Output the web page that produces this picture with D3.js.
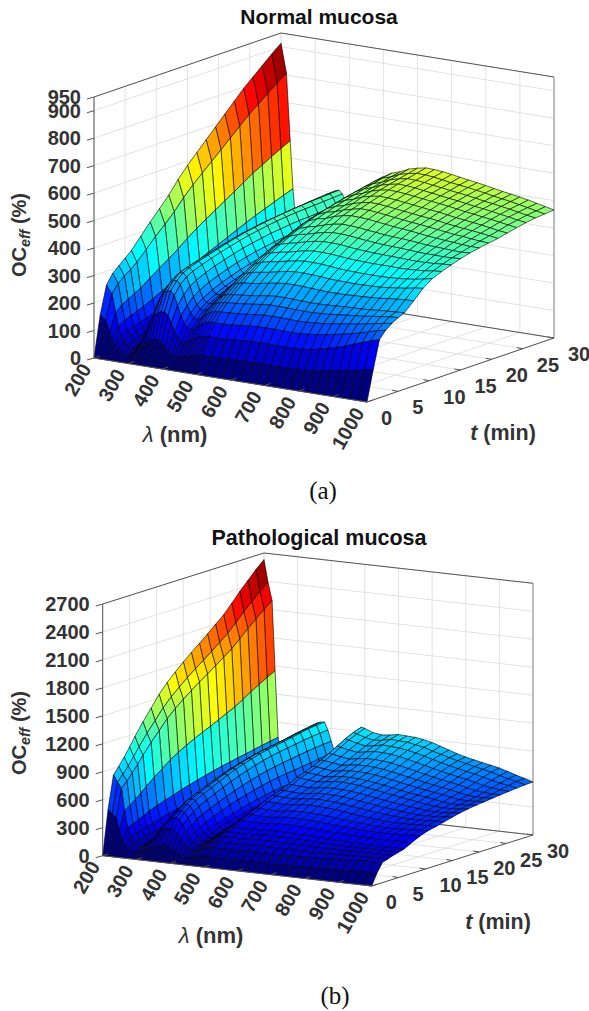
<!DOCTYPE html>
<html><head><meta charset="utf-8">
<script src="https://cdn.jsdelivr.net/npm/d3@7"></script>
<style>html,body{margin:0;padding:0;background:#fff}svg{display:block}text{font-family:"Liberation Sans",Arial,sans-serif;font-weight:bold;fill:#333}</style>
</head><body><svg id="c" width="589" height="1011"></svg>
<script>
const wavelengths=[200,216,227,235,243,252,262,275,290,300,310,320,330,340,350,360,370,380,390,400,410,420,430,440,450,460,470,480,490,500,525,550,575,600,625,650,675,700,725,750,775,800,825,850,875,900,925,950,975,1000];
const wavelengthsB=[200,212,224,233,242,252,262,275,290,300,310,320,330,340,350,360,370,380,390,400,410,420,430,440,450,460,470,480,490,500,525,550,575,600,625,650,675,700,725,750,775,800,825,850,875,900,925,950,975,1000];
const times=[0,1,2,3,4,5,6,7.5,9,10.5,12,13.5,15,16.5,18,19.5,21,22.5,24,25.5,27,28.5,30];
const lambdaTicks=[200,300,400,500,600,700,800,900,1000];
const timeTicks=[0,5,10,15,20,25,30];
const ocTicksA=[0,100,200,300,400,500,600,700,800,900,950];
const ocTicksB=[0,300,600,900,1200,1500,1800,2100,2400,2700];
const ocNormal=[
[0,150,250,285,305,325,345,385,425,462,500,545,585,620,655,690,725,760,795,825,855,885,913],
[0,133,221,252,270,287,305,340,376,408,442,482,517,548,579,610,641,672,703,729,756,782,807],
[0,93,154,176,188,201,213,238,262,285,309,336,361,383,404,426,447,469,491,509,528,546,563],
[0,64,107,122,130,139,147,164,181,197,213,233,250,265,280,295,310,325,339,352,365,378,390],
[0,46,77,87,94,100,106,118,130,142,153,167,180,190,201,212,222,233,244,253,262,272,280],
[0,33,58,70,78,85,92,101,110,119,127,136,145,153,161,169,176,183,191,198,205,210,215],
[0,24,42,52,60,66,72,80,87,95,102,110,117,124,132,138,144,150,157,163,169,175,180],
[0,15,30,40,48,53,58,66,73,81,90,97,105,112,120,127,134,141,148,155,160,165,170],
[0,20,40,55,65,72,80,89,98,106,115,122,130,137,145,150,156,162,168,174,180,185,190],
[0,30,60,82,97,108,118,130,140,150,158,166,174,181,188,194,200,206,212,216,220,224,228],
[0,44,88,120,140,155,167,178,188,197,205,213,221,228,235,241,246,250,254,258,262,266,270],
[0,58,115,155,180,195,207,217,226,235,243,251,258,265,272,277,282,286,290,293,296,298,300],
[0,72,145,195,225,245,255,265,274,282,290,298,305,312,318,323,327,331,335,338,340,342,345],
[0,82,165,225,255,272,282,292,300,310,318,326,333,340,346,351,355,359,362,365,368,371,373],
[0,88,178,243,273,292,302,312,321,331,340,349,356,362,368,372,376,380,383,387,390,393,395],
[0,90,185,253,283,303,313,323,333,343,352,361,369,375,381,385,389,393,396,400,403,406,408],
[0,90,185,255,285,305,316,328,338,348,358,367,375,381,387,392,396,400,403,406,408,410,412],
[0,85,175,240,272,293,305,318,329,340,349,358,366,372,378,383,387,390,392,394,396,398,400],
[0,72,148,205,237,260,275,290,303,314,324,333,340,346,352,356,360,363,365,367,369,371,373],
[0,58,120,170,200,224,240,258,271,283,294,303,311,317,323,327,331,334,337,339,341,343,345],
[0,48,100,145,175,197,213,232,247,259,270,280,288,294,300,305,309,312,315,318,321,323,325],
[0,42,88,130,160,183,200,219,235,248,259,269,278,284,290,295,299,302,305,307,309,311,313],
[0,40,85,125,155,180,197,217,233,247,259,270,279,286,292,297,301,304,307,310,312,314,316],
[0,42,90,130,160,185,200,222,240,255,270,282,292,300,308,314,319,323,327,330,332,334,335],
[0,47,100,143,173,198,215,238,258,276,292,306,318,328,338,345,351,356,361,366,370,374,378],
[0,50,107,152,182,208,226,251,273,293,312,328,342,354,365,374,381,388,394,398,402,406,410],
[0,55,115,160,190,215,235,263,287,309,330,347,362,376,390,400,408,416,424,429,433,437,440],
[0,57,118,163,193,219,240,269,294,317,338,356,372,387,402,412,421,429,436,442,448,455,460],
[0,58,120,165,195,221,242,272,298,322,345,364,381,396,412,423,432,441,450,457,464,471,478],
[0,59,121,165,196,222,244,275,302,327,349,369,387,403,419,431,441,450,459,467,474,481,487],
[0,60,122,165,198,225,247,278,307,334,357,378,398,414,432,444,454,464,473,482,490,498,505],
[0,60,122,167,200,228,250,283,312,339,362,384,404,421,438,451,462,473,483,492,500,508,515],
[0,62,125,170,203,232,255,289,319,346,370,393,413,431,450,462,474,486,496,506,514,522,530],
[0,63,128,173,207,236,260,294,325,352,377,400,420,439,458,470,482,494,505,514,522,530,538],
[0,64,130,176,210,239,263,298,329,356,381,404,425,444,463,477,488,499,510,520,528,536,544],
[0,64,130,176,210,239,263,298,329,356,381,404,425,443,462,476,487,498,509,519,527,535,543],
[0,64,130,176,210,238,262,297,328,355,380,403,423,441,460,473,484,495,506,516,524,532,540],
[0,63,129,175,209,237,261,295,326,352,377,399,419,437,456,469,480,491,502,511,519,527,535],
[0,63,128,174,208,236,259,293,323,349,374,396,416,434,452,465,476,487,498,507,515,522,530],
[0,64,129,175,209,236,260,292,322,347,372,394,413,430,448,461,472,483,494,502,510,518,525],
[0,65,131,178,212,238,261,292,321,346,371,392,411,428,445,457,468,479,490,498,506,514,520],
[0,67,135,182,214,240,263,292,320,345,370,391,409,426,442,454,465,476,486,494,502,509,515],
[0,71,142,187,219,244,265,294,321,345,370,390,408,424,438,450,461,471,481,489,497,504,509],
[0,75,150,192,223,247,266,295,322,345,370,389,406,421,434,446,456,466,476,484,491,498,503],
[0,81,158,199,228,250,267,297,323,346,369,388,404,418,431,442,452,462,472,480,487,493,498],
[0,85,168,205,232,253,269,299,326,348,370,387,403,416,428,438,448,458,467,475,482,488,493],
[0,91,180,213,238,258,272,303,330,351,372,388,403,415,426,436,445,454,463,470,477,482,487],
[0,97,191,222,244,262,274,306,334,355,374,389,402,413,423,432,441,449,458,465,471,476,480],
[0,104,202,231,250,266,276,309,340,361,379,392,403,412,421,429,437,444,453,459,465,469,473],
[0,110,211,238,255,268,278,310,344,368,382,394,405,414,421,427,432,440,448,455,460,463,466]];
const ocPathological=[
[0,480,830,905,985,1075,1170,1300,1420,1540,1640,1725,1805,1880,1950,2025,2100,2175,2270,2370,2460,2550,2630],
[0,436,755,823,895,977,1063,1182,1291,1400,1491,1568,1641,1709,1773,1841,1909,1977,2064,2155,2236,2318,2390],
[0,400,695,757,823,899,978,1087,1187,1287,1371,1442,1509,1572,1630,1693,1756,1818,1898,1981,2056,2132,2200],
[0,265,457,499,543,592,645,716,782,849,904,950,995,1036,1074,1116,1157,1199,1251,1306,1355,1405,1450],
[0,160,280,305,330,357,385,418,447,476,505,530,555,578,600,620,638,655,672,690,707,724,740],
[0,105,185,205,225,243,260,285,308,330,348,367,385,400,415,428,440,452,465,475,484,492,500],
[0,70,125,140,155,168,180,198,216,233,245,258,270,280,290,298,306,314,322,330,337,344,350],
[0,45,85,100,112,122,132,146,160,175,188,200,212,222,232,240,247,254,260,265,270,275,280],
[0,50,95,115,130,143,155,170,185,200,212,224,236,246,255,262,268,274,280,285,290,295,300],
[0,62,123,155,177,195,210,230,248,265,280,295,309,321,332,340,347,354,361,367,372,376,380],
[0,80,160,200,228,250,268,290,310,330,347,362,377,391,405,416,426,436,446,454,462,470,478],
[0,100,205,255,290,315,335,362,385,408,430,449,468,487,505,520,533,546,558,568,580,590,600],
[0,120,245,310,355,385,410,442,470,497,522,545,568,590,612,628,642,656,670,684,698,710,722],
[0,138,280,355,405,440,470,507,540,572,600,625,648,670,692,708,722,736,750,766,780,792,805],
[0,150,305,390,445,490,530,570,605,640,672,700,725,748,770,788,803,818,832,848,865,882,900],
[0,158,320,412,470,520,562,603,640,676,710,742,768,792,815,833,848,863,880,900,915,930,945],
[0,160,325,420,480,530,570,613,652,690,725,758,785,810,835,853,868,883,898,915,930,945,955],
[0,155,315,405,465,515,555,600,640,680,720,755,785,812,838,858,875,890,905,925,942,952,960],
[0,135,275,355,410,460,497,540,580,618,655,688,717,745,770,790,808,822,835,850,862,870,878],
[0,110,225,290,337,380,412,452,490,525,557,587,615,640,662,680,695,708,722,735,745,755,762],
[0,85,175,230,270,305,335,372,405,437,465,490,513,535,555,570,582,592,602,615,628,640,650],
[0,67,137,180,212,240,265,296,325,352,378,400,420,438,455,467,476,484,492,505,518,530,540],
[0,57,117,155,183,207,230,260,288,312,335,356,375,391,405,416,425,433,440,455,470,480,490],
[0,55,110,145,170,190,210,238,262,285,305,325,345,360,375,388,400,412,425,440,450,460,470],
[0,60,122,158,182,205,222,250,275,300,325,347,368,385,402,418,432,448,465,490,515,540,558],
[0,68,138,175,200,222,245,275,304,332,360,385,410,432,455,473,490,510,530,560,590,620,645],
[0,75,155,195,225,253,280,315,350,385,415,445,470,500,530,550,580,610,640,675,710,745,780],
[0,82,165,208,240,270,300,340,378,415,450,485,515,548,580,605,640,675,710,755,800,840,880],
[0,85,170,215,250,283,315,360,400,440,485,520,550,585,630,660,695,735,780,830,880,920,950],
[0,85,170,215,250,283,315,358,398,438,480,517,548,582,626,655,690,730,772,820,868,908,940],
[0,85,170,215,250,280,313,352,392,432,476,510,540,575,615,645,680,718,755,800,845,880,905],
[0,85,170,215,252,282,312,352,390,428,472,505,535,568,605,632,665,700,740,785,825,860,890],
[0,85,172,218,255,287,318,360,400,438,482,515,545,578,618,645,680,715,755,800,838,870,900],
[0,88,175,222,260,292,325,368,410,448,492,527,558,592,630,655,690,725,767,815,858,890,915],
[0,88,175,222,260,292,325,370,412,450,495,530,560,594,632,656,690,725,766,812,852,885,910],
[0,88,175,222,260,292,325,370,412,449,493,527,556,590,627,652,685,720,760,805,845,880,905],
[0,88,175,220,258,290,322,367,407,444,487,520,550,582,618,642,675,708,748,790,830,862,890],
[0,88,175,220,256,287,318,361,400,436,478,510,540,570,603,628,660,692,730,770,812,845,870],
[0,88,175,218,254,283,313,355,392,426,466,497,526,556,588,612,642,674,710,748,788,815,840],
[0,89,177,218,252,279,307,348,384,416,453,484,512,540,572,596,625,655,690,726,762,790,810],
[0,91,179,218,249,276,303,342,377,408,441,472,498,526,556,578,607,636,668,703,738,765,780],
[0,93,182,219,248,274,299,337,370,400,430,460,486,512,541,562,589,617,648,682,716,742,755],
[0,95,185,220,248,272,296,333,365,393,421,450,475,500,527,548,574,601,630,662,695,722,735],
[0,100,190,222,248,270,293,329,360,386,414,441,465,488,512,535,559,585,613,644,675,700,715],
[0,104,196,225,250,270,291,327,357,382,408,433,455,477,497,522,546,570,597,627,657,680,698],
[0,108,201,228,251,270,289,326,358,384,410,430,449,467,485,505,527,550,575,605,635,660,678],
[0,111,206,231,252,270,288,326,361,387,412,430,447,463,478,494,512,532,555,582,610,633,652],
[0,114,210,232,253,270,287,327,364,392,415,434,451,466,482,496,510,525,545,567,590,610,622],
[0,117,213,234,254,270,286,328,368,396,418,438,456,472,488,502,514,526,538,555,575,590,597],
[0,120,215,235,255,270,285,330,372,402,420,443,465,485,500,512,522,532,541,550,558,565,569]];

const svg=d3.select("#c");
const jet=d3.scaleLinear().domain([0,.125,.375,.625,.875,1]).range(["#000080","#0000ff","#00ffff","#ffff00","#ff0000","#800000"]).clamp(true);
const lineGen=d3.line();

function panel(o){
  const g=svg.append("g");
  const lamX=d3.scaleLinear([200,1000],[o.x0,o.x0+o.lamDX]);
  const lamY=d3.scaleLinear([200,1000],[o.y0,o.y0+o.lamDY]);
  const tX=d3.scaleLinear([0,30],[0,o.tDX]);
  const tY=d3.scaleLinear([0,30],[0,o.tDY]);
  const zY=d3.scaleLinear([0,o.zMax],[0,-o.zH]);
  const P=(l,t,z)=>[lamX(l)+tX(t),lamY(l)+tY(t)+zY(z)];
  const color=d3.scaleLinear([0,o.cMax],[0,1]);
  const seg=(a,b,cl,w)=>g.append("path").attr("d",lineGen([a,b])).attr("fill","none").attr("stroke",cl).attr("stroke-width",w);
  const grid="#e2e2e2";
  o.zTicks.forEach(z=>{seg(P(200,0,z),P(200,30,z),grid,1);seg(P(200,30,z),P(1000,30,z),grid,1);});
  lambdaTicks.forEach(l=>{seg(P(l,30,0),P(l,30,o.zMax),grid,1);seg(P(l,0,0),P(l,30,0),grid,1);});
  timeTicks.forEach(t=>{seg(P(200,t,0),P(200,t,o.zMax),grid,1);seg(P(200,t,0),P(1000,t,0),grid,1);});
  const ax="#555";
  seg(P(200,30,0),P(1000,30,0),ax,1);
  seg(P(200,0,o.zMax),P(200,30,o.zMax),ax,1);
  seg(P(200,30,o.zMax),P(1000,30,o.zMax),ax,1);
  seg(P(1000,30,0),P(1000,30,o.zMax),"#888",1);
  const cells=[];
  for(let j=times.length-2;j>=0;j--)for(let i=0;i<o.lam.length-1;i++)cells.push([i,j]);
  g.append("g").selectAll("path").data(cells).join("path")
    .attr("d",([i,j])=>lineGen([P(o.lam[i],times[j],o.z[i][j]),P(o.lam[i+1],times[j],o.z[i+1][j]),P(o.lam[i+1],times[j+1],o.z[i+1][j+1]),P(o.lam[i],times[j+1],o.z[i][j+1])])+"Z")
    .attr("fill",([i,j])=>jet(color(o.z[i][j])))
    .attr("stroke","#000").attr("stroke-width",.6).attr("stroke-linejoin","round");
  seg(P(200,0,0),P(200,0,o.zMax),ax,1);
  seg(P(200,0,0),P(1000,0,0),ax,1);
  seg(P(1000,0,0),P(1000,30,0),ax,1);
  lambdaTicks.forEach(l=>{const a=P(l,0,0);seg(a,[a[0]+6,a[1]-2],ax,1);
    g.append("text").attr("transform",`translate(${a[0]-8},${a[1]+7}) rotate(-60)`).attr("text-anchor","end").attr("dominant-baseline","central").attr("font-size",o.fs).text(l);});
  timeTicks.forEach(t=>{const a=P(1000,t,0);seg(a,[a[0]-6,a[1]-1],ax,1);
    g.append("text").attr("x",a[0]+14).attr("y",a[1]+16).attr("dominant-baseline","central").attr("font-size",o.fs).text(t);});
  o.zTicks.forEach(z=>{const a=P(200,0,z);seg(a,[a[0]-7,a[1]+2],ax,1);
    g.append("text").attr("x",a[0]-o.zLabelGap).attr("y",a[1]).attr("text-anchor","end").attr("dominant-baseline","central").attr("font-size",o.fs).text(z);});
  g.append("text").attr("x",o.title[0]).attr("y",o.title[1]).attr("text-anchor","middle").attr("font-size",o.titleFs).style("fill","#111").text(o.titleText);
  const lx=g.append("text").attr("x",o.lamLabel[0]).attr("y",o.lamLabel[1]).attr("text-anchor","middle").attr("font-size",22);
  lx.append("tspan").attr("font-style","italic").attr("font-weight","normal").text("λ");
  lx.append("tspan").text(" (nm)");
  const tx=g.append("text").attr("x",o.tLabel[0]).attr("y",o.tLabel[1]).attr("text-anchor","middle").attr("font-size",21.5);
  tx.append("tspan").attr("font-style","italic").text("t");
  tx.append("tspan").text(" (min)");
  const oc=g.append("text").attr("transform",`translate(${o.ocLabel[0]},${o.ocLabel[1]}) rotate(-90)`).attr("text-anchor","middle").attr("font-size",o.fs);
  oc.append("tspan").text("OC");
  oc.append("tspan").attr("font-style","italic").attr("font-size",o.fs*.72).attr("dy",4).text("eff");
  oc.append("tspan").attr("dy",-4).text(" (%)");
  svg.append("text").attr("x",o.cap[0]).attr("y",o.cap[1]).attr("text-anchor","middle").attr("font-size",25).style("font-family","'Liberation Serif',serif").style("font-weight","normal").style("fill","#111").text(o.capText);
}
panel({lam:wavelengths,z:ocNormal,x0:94,y0:358,lamDX:273,lamDY:44,tDX:187,tDY:-64,zMax:950,zH:261,cMax:913,zTicks:ocTicksA,fs:20,zLabelGap:13,
  title:[319,24],titleFs:21,titleText:"Normal mucosa",lamLabel:[175,442],tLabel:[503,440],ocLabel:[26,235],cap:[323,499],capText:"(a)"});
panel({lam:wavelengthsB,z:ocPathological,x0:102.7,y0:855.7,lamDX:269,lamDY:30.3,tDX:161.3,tDY:-51,zMax:2700,zH:251.7,cMax:2630,zTicks:ocTicksB,fs:20,zLabelGap:13,
  title:[319,545],titleFs:21.5,titleText:"Pathological mucosa",lamLabel:[211,943],tLabel:[498,929],ocLabel:[26,733],cap:[335,1004],capText:"(b)"});
</script></body></html>
